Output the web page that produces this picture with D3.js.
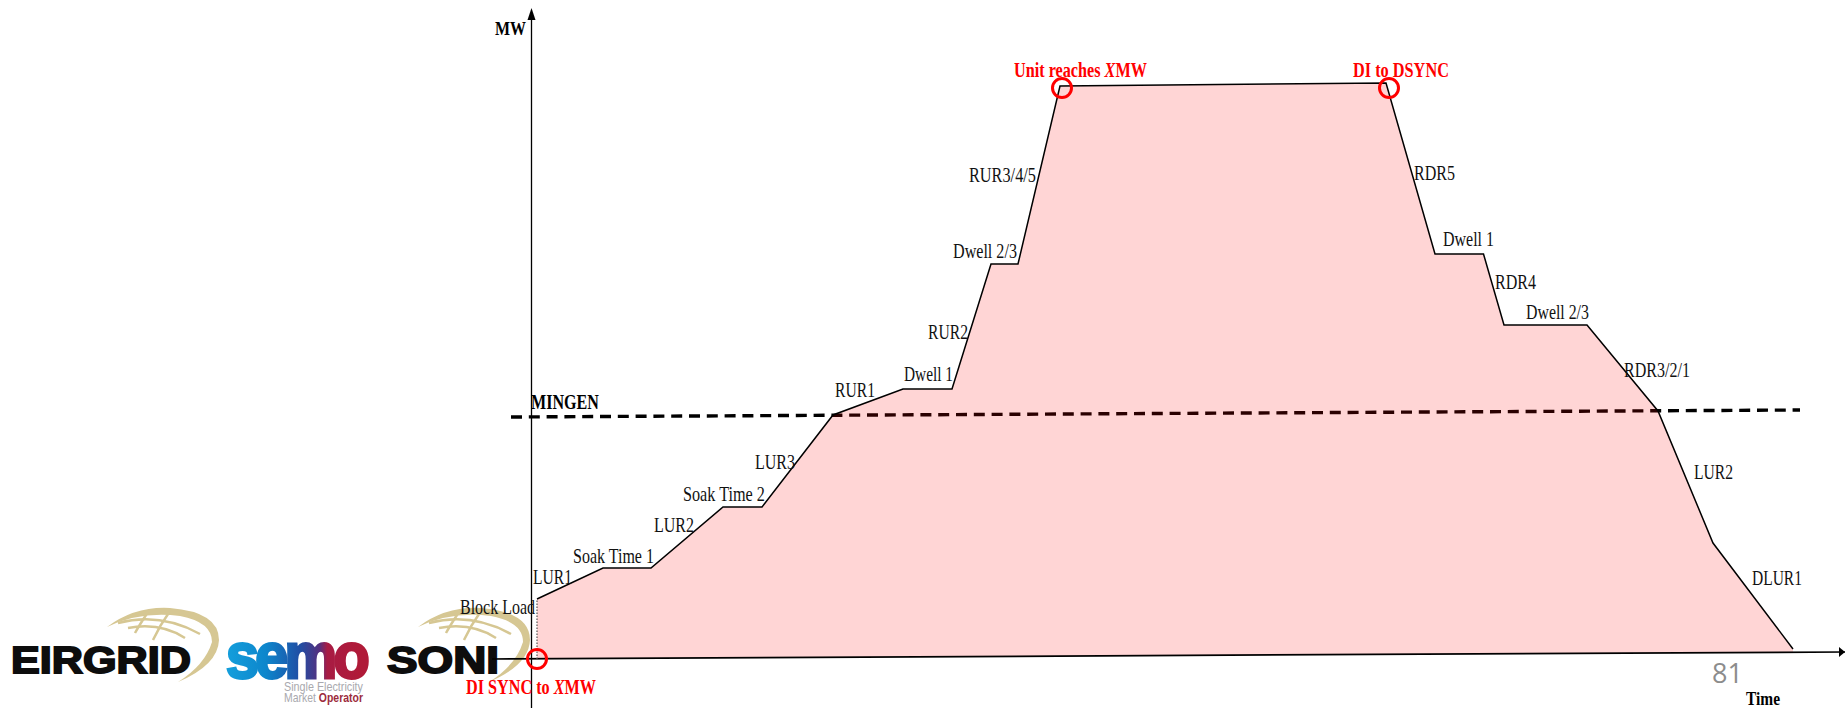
<!DOCTYPE html>
<html>
<head>
<meta charset="utf-8">
<script src="https://cdn.jsdelivr.net/npm/d3@7"></script>
<style>
html,body{margin:0;padding:0;background:#fff;overflow:hidden}
svg{display:block}
text{font-family:"Liberation Serif",serif;white-space:pre}
</style>
</head>
<body>
<svg id="c" width="1845" height="708"></svg>
<script>
// ---- data (time and MW in arbitrary chart units)
const timeValues = [0.5, 0.5, 7.1, 11.9, 19.1, 23, 30.1, 37.1, 42, 45.9, 48.6, 52.8, 85.4, 90.3, 95.15, 97.2, 105.5, 112.6, 118.1, 126.1];
const mwValues   = [0,   60,  91,  91,   152,  152, 244, 270,  270, 395, 395,  573,  576,  405,  405,   334,  334,   248,   116,   10];
const baselineTime = [-4, 131.3];
const baselineMw   = [0, 7];
const mingenTime = [-2.1, 126.8];
const mingenMw   = [242, 249];
const markerTime = [0.5, 53, 85.7];
const markerMw   = [0, 571, 571];
const curveLabels = ["Block Load","LUR1","Soak Time 1","LUR2","Soak Time 2","LUR3","RUR1","Dwell 1","RUR2","Dwell 2/3","RUR3/4/5","RDR5","Dwell 1","RDR4","Dwell 2/3","RDR3/2/1","LUR2","DLUR1"];
const axisLabels = ["MW","MINGEN","Time"];

// ---- layout (left, right, baseline) for labels, in page pixels
const curveLabelBoxes = [[460,535,614],[533,572,584],[573,654,563],[654,694,532],[683,765,501],[755,795,469],[835,875,397],[904,953,381],[928,968,339],[953,1017,258],[969,1036,182],[1414,1455,180],[1443,1494,246],[1495,1536,289],[1526,1589,319],[1624,1690,377],[1694,1733,479],[1752,1802,585]];
const axisLabelBoxes = [[495,526,35],[531,599,409],[1746,1780,705]];

const svg = d3.select("#c");
const x = d3.scaleLinear().domain([0,131.3]).range([532,1845]);
const y = d3.scaleLinear().domain([0,650]).range([659,9]);
const pts = timeValues.map((t,i)=>({t, mw:mwValues[i]}));

function fit(sel,x0,x1,base){
  const w = sel.node().getComputedTextLength();
  sel.attr("transform",`translate(${x0},${base}) scale(${(x1-x0)/w},1)`);
  return sel;
}

// ---- logos
const defs = svg.append("defs");
const grad = defs.append("linearGradient").attr("id","semoG").attr("gradientUnits","userSpaceOnUse")
  .attr("x1",226).attr("x2",370).attr("y1",0).attr("y2",0);
[[0,"#149fdc"],[0.3,"#0d86cc"],[0.55,"#1f4fa5"],[0.7,"#54307f"],[0.76,"#a81c44"],[1,"#b01a38"]]
  .forEach(s=>grad.append("stop").attr("offset",s[0]).attr("stop-color",s[1]));

function globe(dx){
  const g = svg.append("g").attr("transform",`translate(${dx},0)`);
  g.append("path").attr("fill","#d6c793")
   .attr("d","M107,627 Q135,606 170,608 Q219,612 219,640 Q218,665 178,682 Q205,665 212,642 Q212,622 180,616 Q140,611 107,627 Z");
  ["M118,623 Q160,612 200,634","M128,628 Q160,622 185,638","M148,612 Q140,624 135,633","M170,611 Q160,625 153,640"]
   .forEach(d=>g.append("path").attr("d",d).attr("fill","none").attr("stroke","#d6c793").attr("stroke-width",2.5));
}
globe(0);
globe(311);
const wordmark = (txt,x0,x1)=>{
  const t = svg.append("text").text(txt)
    .style("font-family","'Liberation Sans',sans-serif").style("font-weight",700).style("font-size","37px")
    .attr("fill","#0d0d0d").attr("stroke","#0d0d0d").attr("stroke-width",1.8);
  fit(t,x0,x1,673);
};
wordmark("EIRGRID",11,191);
wordmark("SONI",387,499);
const semo = svg.append("text").text("semo").attr("fill","url(#semoG)")
  .style("font-family","'Liberation Sans',sans-serif").style("font-weight",700).style("font-size","64px").style("letter-spacing","-4px");
{ const w = semo.node().getComputedTextLength();
  semo.attr("x",226).attr("y",678).attr("stroke","url(#semoG)").attr("stroke-width",3)
      .attr("transform",`translate(226,0) scale(${140/w},1) translate(-226,0)`); }
const sub1 = svg.append("text").text("Single Electricity").attr("fill","#a9a9ae")
  .style("font-family","'Liberation Sans',sans-serif").style("font-size","12px");
fit(sub1,284,363,691);
const sub2 = svg.append("text").attr("fill","#a9a9ae")
  .style("font-family","'Liberation Sans',sans-serif").style("font-size","12px");
sub2.append("tspan").text("Market ");
sub2.append("tspan").text("Operator").attr("fill","#9c2b3c").style("font-weight",700);
fit(sub2,284,363,702);

// ---- dashed MINGEN line (sits under the translucent fill)
const dl = d3.line().x(d=>x(d[0])).y(d=>y(d[1]));
svg.append("path").attr("d",dl(d3.zip(mingenTime,mingenMw))).attr("fill","none")
  .attr("stroke","#000").attr("stroke-width",3.4).attr("stroke-dasharray","11 6.8");

// ---- shaded area
const floorAt = d3.scaleLinear().domain(baselineTime).range(baselineMw);
svg.append("path").datum(pts)
  .attr("d",d3.area().x(d=>x(d.t)).y1(d=>y(d.mw)).y0(d=>y(floorAt(d.t)))(pts))
  .attr("fill","#ff0000").attr("fill-opacity",0.165);

// ---- axes
svg.append("path").attr("d",dl(d3.zip(baselineTime,baselineMw))).attr("fill","none")
  .attr("stroke","#000").attr("stroke-width",1.7);
const xTip = x(baselineTime[1]), yTip = y(650);
const yAxisX = x(0)-0.5;
svg.append("line").attr("x1",yAxisX).attr("x2",yAxisX).attr("y1",708).attr("y2",yTip+8)
  .attr("stroke","#000").attr("stroke-width",1.3);
svg.append("path").attr("d",d3.line()([[yAxisX,yTip-1],[yAxisX-4,yTip+11],[yAxisX+4,yTip+11]])+"Z").attr("fill","#000");
const xEndY = y(baselineMw[1]);
svg.append("path").attr("d",d3.line()([[xTip,xEndY],[xTip-6,xEndY-5],[xTip-6,xEndY+5]])+"Z").attr("fill","#000");

// ---- curve
svg.append("path").attr("d",d3.line().x(d=>x(d.t)).y(d=>y(d.mw))(pts.slice(0,2))).attr("fill","none")
  .attr("stroke","#555").attr("stroke-width",1.2).attr("stroke-dasharray","1.5 1.5");
svg.append("path").attr("d",d3.line().x(d=>x(d.t)).y(d=>y(d.mw))(pts.slice(1))).attr("fill","none")
  .attr("stroke","#000").attr("stroke-width",1.5).attr("stroke-linejoin","miter");

// ---- labels
curveLabels.forEach((s,i)=>{
  const b = curveLabelBoxes[i];
  fit(svg.append("text").text(s).attr("fill","#111").style("font-size","22px"),b[0],b[1],b[2]);
});
axisLabels.forEach((s,i)=>{
  const b = axisLabelBoxes[i];
  fit(svg.append("text").text(s).attr("fill","#000").style("font-weight",700).style("font-size",i===1?"21px":"19px"),b[0],b[1],b[2]);
});
function redLabel(before,after,x0,x1,base){
  const t = svg.append("text").attr("fill","#ff0000").style("font-weight",700).style("font-size","21px");
  t.append("tspan").text(before);
  if(after!==null){
    t.append("tspan").text("X").style("font-style","italic");
    t.append("tspan").text(after);
  }
  fit(t,x0,x1,base);
}
redLabel("Unit reaches ","MW",1014,1147,77);
redLabel("DI to DSYNC",null,1353,1449,77);
redLabel("DI SYNC to ","MW",466,596,694);

// ---- red markers
svg.selectAll("circle.m").data(d3.zip(markerTime,markerMw)).join("circle").attr("class","m")
  .attr("cx",d=>x(d[0])).attr("cy",d=>y(d[1])).attr("r",9.5)
  .attr("fill","none").attr("stroke","#ff0000").attr("stroke-width",3);

// ---- page number
svg.append("text").text("81").attr("x",1712).attr("y",683).attr("fill","#8c8c8c")
  .style("font-family","'Open Sans',sans-serif").style("font-size","27px");
</script>
</body>
</html>
